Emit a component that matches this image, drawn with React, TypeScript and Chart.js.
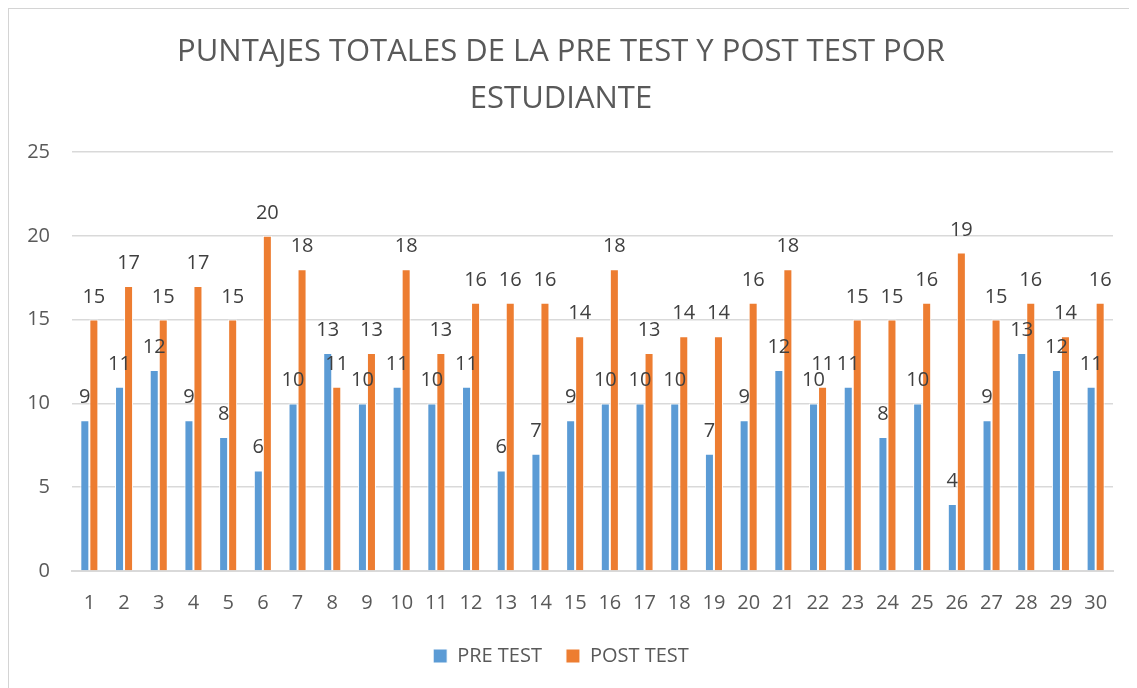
import React, { useEffect, useRef } from "react";
import { Chart, registerables } from "chart.js";

Chart.register(...registerables);

const categories = Array.from({ length: 30 }, (_, i) => String(i + 1));
const preTest = [9, 11, 12, 9, 8, 6, 10, 13, 10, 11, 10, 11, 6, 7, 9, 10, 10, 10, 7, 9, 12, 10, 11, 8, 10, 4, 9, 13, 12, 11];
const postTest = [15, 17, 15, 17, 15, 20, 18, 11, 13, 18, 13, 16, 16, 16, 14, 18, 13, 14, 14, 16, 18, 11, 15, 15, 16, 19, 15, 16, 14, 16];
const yTicks = [0, 5, 10, 15, 20, 25];

const FONT = "'Open Sans', sans-serif";

const labelPlugin = {
  id: "barLabels",
  afterDatasetsDraw(chart: any) {
    const ctx = chart.ctx;
    ctx.save();
    ctx.font = `20px ${FONT}`;
    ctx.fillStyle = "#404040";
    ctx.textAlign = "center";
    ctx.textBaseline = "alphabetic";
    chart.data.datasets.forEach((ds: any, di: number) => {
      const meta = chart.getDatasetMeta(di);
      meta.data.forEach((bar: any, i: number) => {
        ctx.fillText(String(ds.data[i]), bar.x, bar.y - 17);
      });
    });
    ctx.restore();
  },
};

export default function App() {
  const ref = useRef<HTMLCanvasElement>(null);
  useEffect(() => {
    if (!ref.current) return;
    const chart = new Chart(ref.current, {
      type: "bar",
      data: {
        labels: categories,
        datasets: [
          { label: "PRE TEST", data: preTest, backgroundColor: "#5b9bd5", borderColor: "#ffffff", borderWidth: 1, categoryPercentage: 0.52, barPercentage: 1 },
          { label: "POST TEST", data: postTest, backgroundColor: "#ed7d31", borderColor: "#ffffff", borderWidth: 1, categoryPercentage: 0.52, barPercentage: 1 },
        ],
      },
      options: {
        animation: false,
        responsive: false,
        layout: { padding: { left: 0, right: 24, top: 0, bottom: 12 } },
        plugins: {
          title: {
            display: true,
            text: ["PUNTAJES TOTALES DE LA PRE TEST Y POST TEST POR", "ESTUDIANTE"],
            color: "#595959",
            font: { family: FONT, size: 31, weight: "normal", lineHeight: 1.5 },
            padding: { top: 20, bottom: 30 },
          },
          legend: {
            position: "bottom",
            labels: {
              color: "#595959",
              font: { family: FONT, size: 20 },
              boxWidth: 14,
              boxHeight: 14,
              padding: 24,
            },
          },
          tooltip: { enabled: false },
        },
        scales: {
          x: {
            grid: { display: false, drawTicks: false },
            border: { color: "#d9d9d9", width: 2 },
            ticks: { color: "#595959", font: { family: FONT, size: 20 }, padding: 20, maxRotation: 0, autoSkip: false },
            afterFit: (s: any) => { s.height = 51; },
          },
          y: {
            min: 0,
            max: 25,
            afterBuildTicks: (s: any) => { s.ticks = yTicks.map((v) => ({ value: v })); },
            grid: { color: "#d9d9d9", lineWidth: 1.5, drawTicks: false },
            border: { display: false },
            ticks: { color: "#595959", font: { family: FONT, size: 20 }, padding: 22 },
            afterFit: (s: any) => { s.width = 63; },
          },
        },
      },
      plugins: [labelPlugin],
    });
    return () => chart.destroy();
  }, []);
  return (
    <div style={{ border: "2px solid #d4d4d4", width: 1140, height: 700, boxSizing: "border-box", marginLeft: -1, marginTop: -1 }}>
      <canvas ref={ref} width={1128} height={679} style={{ display: "block" }} />
    </div>
  );
}
